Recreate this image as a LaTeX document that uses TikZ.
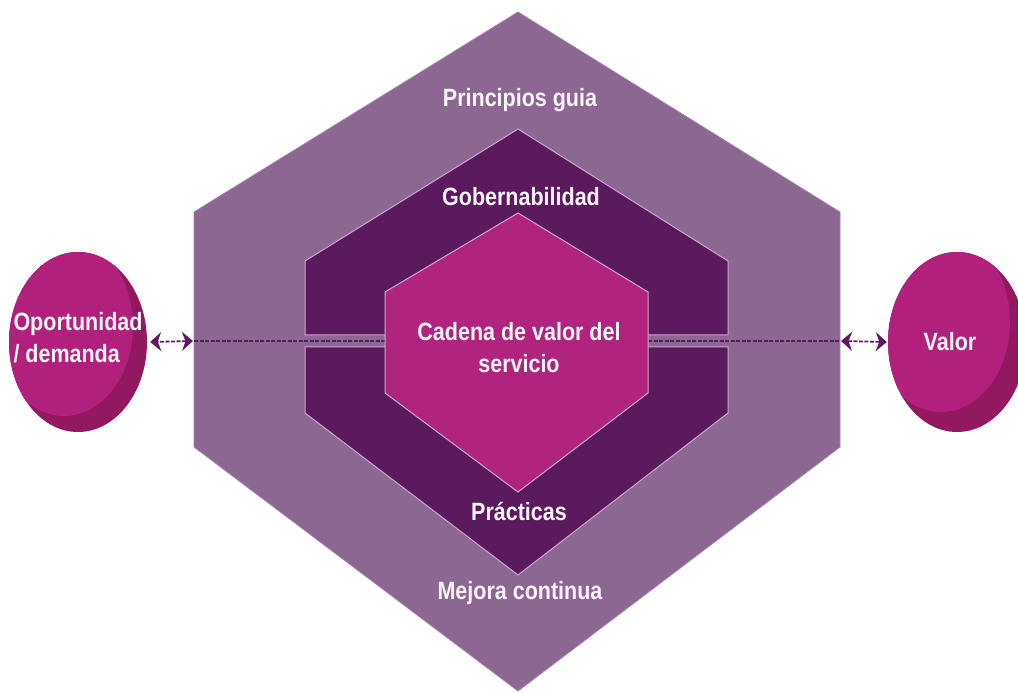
\documentclass[tikz,border=0pt]{standalone}
\usepackage{fontspec}
\newfontfamily\labelfont{Liberation Sans}[FakeStretch=0.86]
\usetikzlibrary{shapes.geometric,arrows.meta,calc}
\definecolor{outerc}{HTML}{8B6792}
\definecolor{midc}{HTML}{5B1A5E}
\definecolor{innerc}{HTML}{B0237F}
\definecolor{edgec}{HTML}{CFA8D0}
\definecolor{circc}{HTML}{B2207D}
\definecolor{cresc}{HTML}{921860}
\definecolor{textc}{HTML}{FAF5FA}
\definecolor{arrc}{HTML}{5B1A5E}
\begin{document}
\begin{tikzpicture}[x=1pt,y=-1pt,
  lbl/.style={text=textc,font=\labelfont\bfseries\fontsize{25}{32}\selectfont,align=center,inner sep=0pt},
  hexo/.style={fill=outerc,draw=outerc!80!white,line width=0.8pt,line join=miter},
  hexm/.style={fill=midc,draw=edgec,line width=1pt,line join=miter},
  hexi/.style={fill=innerc,draw=edgec,line width=1pt,line join=miter},
  circ/.style args={#1/#2/#3}{ellipse,fill=cresc,inner sep=0pt,
    path picture={\fill[circc] ($(path picture bounding box.center)+(#2,#3)$) ellipse [x radius=#1, y radius=90];}},
  link/.style={draw=arrc,line width=1.8pt,dash pattern=on 4pt off 1.5pt},
  tips/.style={{Stealth[length=11pt,width=19pt,inset=3.5pt]}-{Stealth[length=11pt,width=19pt,inset=3.5pt]}}
]
\useasboundingbox (0,0) rectangle (1018,692);
% outer hexagon
\path[hexo] (518,12) -- (840,212) -- (840,447) -- (518,691) -- (194,447) -- (194,212) -- cycle;
% middle hexagon, split in two
\path[hexm] (518,129) -- (728,261) -- (728,335) -- (305,335) -- (305,261) -- cycle;
\path[hexm] (305,347) -- (728,347) -- (728,413) -- (518,575) -- (305,413) -- cycle;
% connection coordinates
\coordinate (hl) at (194,341);
\coordinate (hr) at (840,341);
\coordinate (il) at (385,341);
\coordinate (ir) at (648,341);
\draw[link] (hl) -- (il);
\draw[link] (ir) -- (hr);
% inner hexagon
\path[hexi] (518,213) -- (648,292) -- (648,393) -- (518,492) -- (385,393) -- (385,292) -- cycle;
% labels
\node[lbl] (pg) at (520,100) {Principios guia};
\node[lbl] (gob) at (521,197) {Gobernabilidad};
\node[lbl] (cad) at (519,348) {Cadena de valor del\\servicio};
\node[lbl] (pra) at (519,511) {Prácticas};
\node[lbl] (mej) at (520,593) {Mejora continua};
% circles
\node[circ=69/-14/-16,minimum width=138pt,minimum height=180pt] (opp) at (78,342) {};
\node[lbl,align=left] (oppt) at (78,338) {Oportunidad\\/ demanda};
\node[circ=69/-16/-20,minimum width=138pt,minimum height=180pt] (val) at (957,342) {};
\node[lbl] (valt) at (950,342) {Valor};
% arrows
\draw[link,tips] ([xshift=-1pt]hl) -- ([xshift=3pt]opp.east);
\draw[link,tips] ([xshift=1pt]hr) -- ([xshift=-1pt]val.west);
\end{tikzpicture}
\end{document}
